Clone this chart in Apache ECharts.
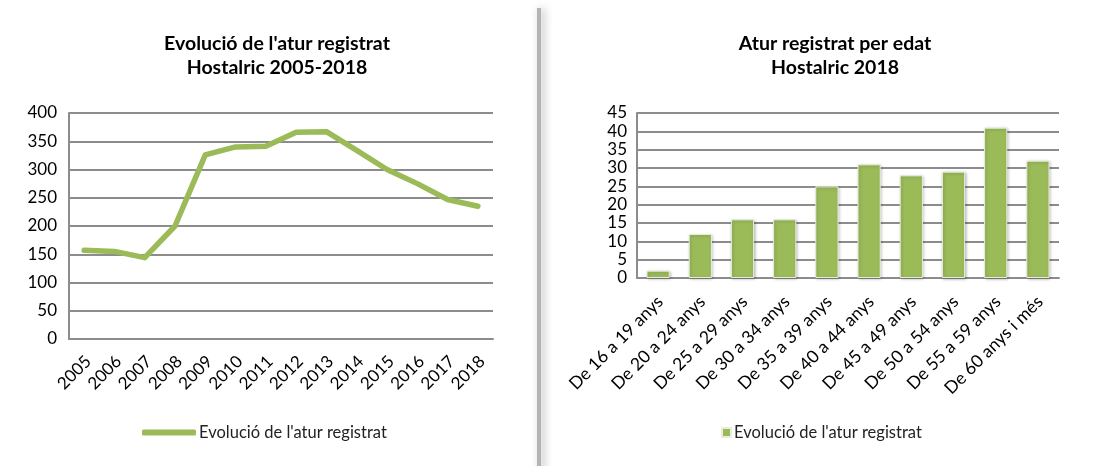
<!DOCTYPE html>
<html>
<head>
<meta charset="utf-8">
<script src="https://cdn.jsdelivr.net/npm/echarts@6/dist/echarts.min.js"></script>
<style>
  html, body { margin: 0; padding: 0; background: #fff; }
  #chart { width: 1106px; height: 466px; }
</style>
</head>
<body>
<div id="chart"></div>
<script>
  // data
  var years = ['2005', '2006', '2007', '2008', '2009', '2010', '2011', '2012', '2013', '2014', '2015', '2016', '2017', '2018'];
  var aturAnual = [157, 155, 144, 200, 326, 340, 341, 366, 367, 334, 300, 275, 247, 235];
  var edats = ['De 16 a 19 anys', 'De 20 a 24 anys', 'De 25 a 29 anys', 'De 30 a 34 anys', 'De 35 a 39 anys',
               'De 40 a 44 anys', 'De 45 a 49 anys', 'De 50 a 54 anys', 'De 55 a 59 anys', 'De 60 anys i més'];
  var aturEdat = [2, 12, 16, 16, 25, 31, 28, 29, 41, 32];
  var serieNom = "Evolució de l'atur registrat";

  var font = 'Lato, "Open Sans", sans-serif';
  var green = '#9BBB59';
  var gridGray = '#8c8c8c';

  var chart = echarts.init(document.getElementById('chart'));
  chart.setOption({
    backgroundColor: '#ffffff',
    textStyle: { fontFamily: font },
    graphic: [{
      type: 'rect',
      shape: { x: 537, y: 8, width: 4, height: 470 },
      style: { fill: '#b4b4b4', shadowBlur: 8, shadowColor: 'rgba(0,0,0,0.3)', shadowOffsetX: 3 }
    }],
    title: [{
      text: "Evolució de l'atur registrat\nHostalric 2005-2018",
      left: 272, top: 27, textAlign: 'center',
      textStyle: { fontFamily: font, fontSize: 19.5, fontWeight: 'bold', color: '#000', lineHeight: 24 }
    }, {
      text: 'Atur registrat per edat\nHostalric 2018',
      left: 830, top: 27, textAlign: 'center',
      textStyle: { fontFamily: font, fontSize: 19.5, fontWeight: 'bold', color: '#000', lineHeight: 24 }
    }],
    legend: [{
      left: 137, top: 419,
      itemWidth: 54, itemHeight: 6, itemGap: 4,
      icon: 'roundRect',
      data: [{ name: serieNom, itemStyle: { color: green } }],
      textStyle: { fontFamily: font, fontSize: 16.5, color: '#222', padding: [0, 0, 0, -2] },
      selectedMode: false
    }, {
      left: 716, top: 419,
      itemWidth: 9, itemHeight: 9,
      icon: 'rect',
      data: [{ name: serieNom + ' ', itemStyle: { color: green } }],
      textStyle: { fontFamily: font, fontSize: 16.5, color: '#222', padding: [0, 0, 0, -2] },
      selectedMode: false
    }],
    grid: [
      { left: 69, right: 613, top: 113, bottom: 127 },
      { left: 637, right: 47, top: 113, bottom: 188 }
    ],
    xAxis: [{
      type: 'category', gridIndex: 0, data: years, boundaryGap: true,
      axisLine: { lineStyle: { color: gridGray, width: 2 } },
      axisTick: { show: false },
      axisLabel: { rotate: 45, color: '#000', fontSize: 17, margin: 24, interval: 0,
                   padding: [0, -6, 0, 0], fontFamily: font }
    }, {
      type: 'category', gridIndex: 1, data: edats, boundaryGap: true,
      axisLine: { lineStyle: { color: gridGray, width: 2 } },
      axisTick: { show: false },
      axisLabel: { rotate: 45, color: '#000', fontSize: 17.5, margin: 23, interval: 0,
                   padding: [0, -3, 0, 0], fontFamily: font }
    }],
    yAxis: [{
      type: 'value', gridIndex: 0, min: 0, max: 400, interval: 50,
      axisLine: { show: true, lineStyle: { color: gridGray, width: 2 } },
      axisTick: { show: false },
      splitLine: { lineStyle: { color: gridGray, width: 2 } },
      axisLabel: { color: '#000', fontSize: 17, margin: 12, fontFamily: font }
    }, {
      type: 'value', gridIndex: 1, min: 0, max: 45, interval: 5,
      axisLine: { show: true, lineStyle: { color: gridGray, width: 2 } },
      axisTick: { show: false },
      splitLine: { lineStyle: { color: gridGray, width: 2 } },
      axisLabel: { color: '#000', fontSize: 17, margin: 10, fontFamily: font }
    }],
    series: [{
      name: serieNom, type: 'line', xAxisIndex: 0, yAxisIndex: 0,
      data: aturAnual, symbol: 'none',
      lineStyle: { color: green, width: 5.5, cap: 'round', join: 'round' },
      itemStyle: { color: green }
    }, {
      name: serieNom + ' ', type: 'bar', xAxisIndex: 1, yAxisIndex: 1,
      data: aturEdat, barWidth: '55%',
      itemStyle: {
        color: green, borderColor: '#e8eedd', borderWidth: 1,
        shadowBlur: 3, shadowColor: 'rgba(0,0,0,0.25)', shadowOffsetX: 1, shadowOffsetY: 1
      }
    }],
    animation: false
  });
</script>
</body>
</html>
